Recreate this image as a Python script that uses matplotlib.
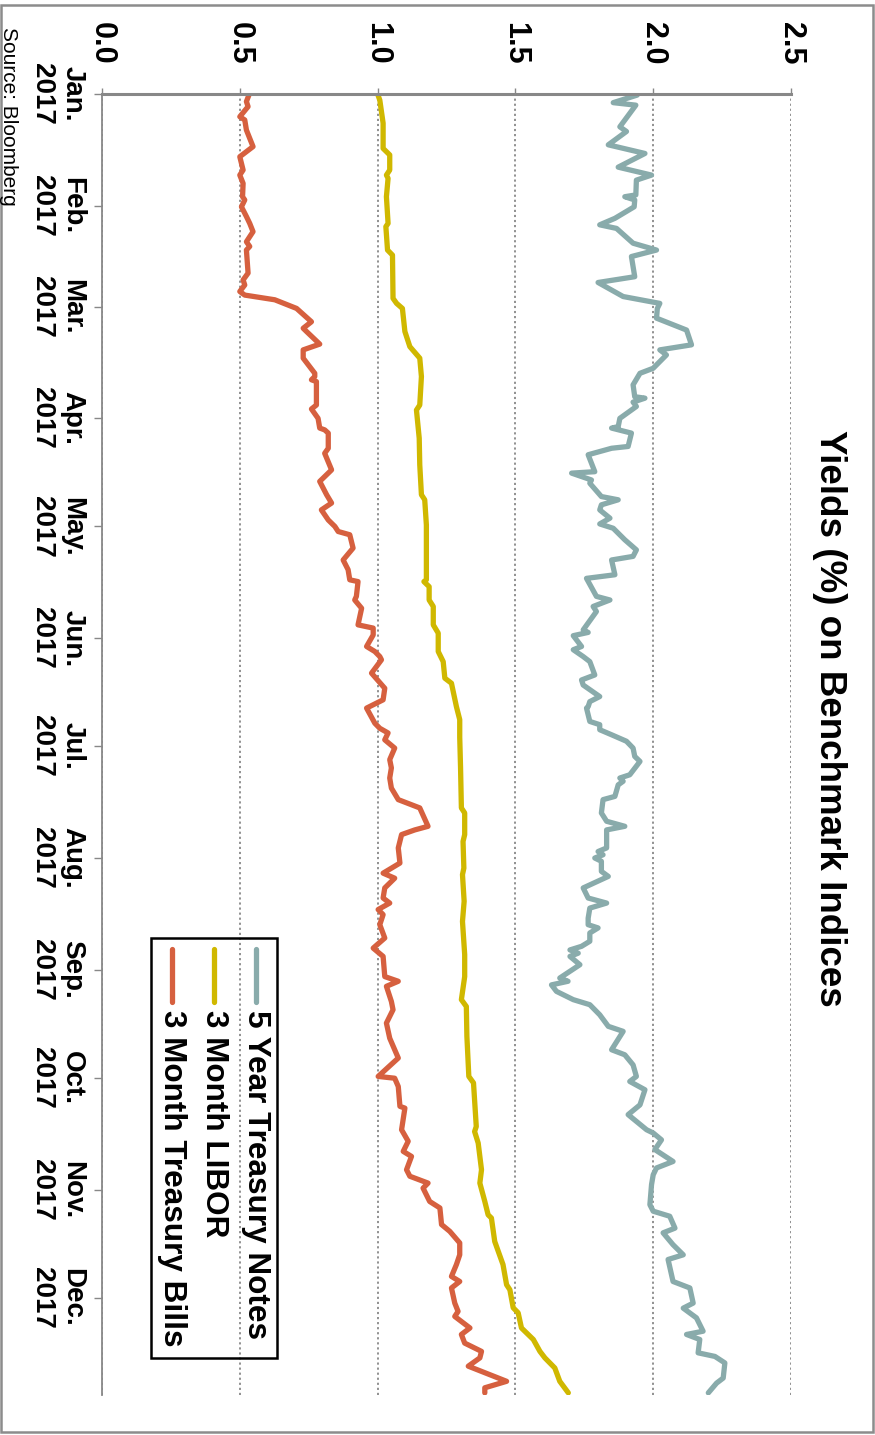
import numpy as np
import matplotlib
matplotlib.use("Agg")
import matplotlib.pyplot as plt
from matplotlib.patches import Rectangle
from matplotlib.lines import Line2D

plt.rcParams['font.family'] = ['Liberation Sans', 'DejaVu Sans']

# Days counted from 1 Jan 2017, yields in percent
notes_days = [0.3, 2.4, 3.1, 9.1, 10.4, 14.1, 16.5, 20.3, 22.5, 23.9, 28.0, 28.5, 29.4, 31.3,
              34.5, 36.3, 37.3, 41.4, 43.3, 45.1, 50.7, 52.3, 56.2, 58.1, 59.5, 62.2, 65.5,
              69.6, 71.0, 72.4, 76.1, 77.5, 80.7, 84.0, 84.4, 85.5, 86.7, 90.0, 92.3, 92.7,
              94.1, 97.8, 98.3, 100.1, 104.8, 105.2, 107.1, 108.0, 111.7, 112.6, 114.0,
              115.4, 117.7, 119.3, 120.5, 123.7, 126.5, 128.3, 129.3, 133.4, 134.4, 139.4,
              140.4, 142.2, 143.6, 148.7, 149.4, 150.3, 153.3, 154.2, 156.1, 157.5, 161.2,
              162.6, 164.0, 167.2, 168.6, 170.0, 170.4, 174.1, 175.0, 176.4, 177.8, 179.6,
              181.5, 183.8, 185.2, 188.9, 189.8, 190.7, 191.7, 194.9, 195.8, 199.5, 201.8,
              203.2, 204.2, 209.2, 210.2, 211.1, 212.0, 212.9, 215.7, 217.1, 220.3, 223.1,
              224.5, 225.9, 228.7, 230.5, 231.4, 232.8, 235.1, 236.5, 237.5, 238.4, 239.3,
              241.6, 245.3, 246.2, 247.2, 249.0, 251.3, 252.7, 255.5, 258.7, 260.1, 265.2,
              266.6, 269.4, 272.6, 274.0, 276.3, 280.5, 283.2, 287.4, 288.3, 290.2, 292.9,
              296.2, 298.0, 299.9, 302.6, 308.2, 310.0, 311.4, 314.7, 316.0, 319.3, 322.1,
              323.4, 329.5, 331.3, 335.5, 336.9, 339.6, 343.3, 344.2, 345.6, 349.3, 350.3,
              352.1, 356.3, 357.7, 360.4]
notes_vals = [1.942, 1.855, 1.937, 1.879, 1.903, 1.837, 1.970, 1.873, 1.994, 1.939, 1.937, 1.897,
              1.933, 1.931, 1.861, 1.806, 1.867, 1.927, 2.012, 1.921, 1.933, 1.800, 1.891,
              2.024, 2.015, 2.012, 2.121, 2.139, 2.024, 2.048, 2.000, 1.952, 1.927, 1.933,
              1.970, 1.927, 1.939, 1.879, 1.873, 1.849, 1.921, 1.909, 1.849, 1.764, 1.788,
              1.704, 1.776, 1.770, 1.812, 1.873, 1.812, 1.806, 1.843, 1.806, 1.855, 1.897,
              1.939, 1.927, 1.849, 1.861, 1.758, 1.794, 1.843, 1.782, 1.794, 1.746, 1.764,
              1.710, 1.740, 1.710, 1.746, 1.770, 1.788, 1.740, 1.746, 1.806, 1.770, 1.764,
              1.758, 1.770, 1.806, 1.806, 1.849, 1.903, 1.927, 1.933, 1.952, 1.915, 1.879,
              1.891, 1.873, 1.861, 1.818, 1.812, 1.831, 1.897, 1.831, 1.831, 1.800, 1.818,
              1.788, 1.812, 1.812, 1.837, 1.746, 1.764, 1.831, 1.770, 1.764, 1.764, 1.800,
              1.770, 1.770, 1.740, 1.698, 1.728, 1.698, 1.734, 1.661, 1.691, 1.631, 1.649,
              1.710, 1.770, 1.806, 1.837, 1.891, 1.849, 1.897, 1.927, 1.939, 1.915, 1.970,
              1.952, 1.909, 1.976, 2.000, 2.030, 2.006, 2.072, 2.012, 2.000, 1.994, 1.988,
              2.000, 2.060, 2.079, 2.036, 2.072, 2.109, 2.054, 2.072, 2.133, 2.145, 2.109,
              2.157, 2.181, 2.121, 2.169, 2.163, 2.224, 2.260, 2.254, 2.230, 2.200]

libor_days = [0.0, 1.7, 8.1, 15.1, 16.9, 21.1, 22.5, 23.4, 28.5, 35.9, 36.8, 43.3, 44.7, 56.7,
              58.1, 59.5, 65.9, 70.1, 73.3, 78.4, 86.3, 87.7, 95.5, 102.9, 111.2, 112.6,
              119.6, 121.9, 134.8, 135.3, 136.7, 140.4, 142.2, 147.3, 149.6, 154.7, 157.5,
              162.1, 163.5, 170.0, 173.6, 178.5, 187.0, 198.1, 199.5, 205.5, 207.4, 214.8,
              216.6, 224.0, 229.6, 238.8, 244.9, 251.3, 253.2, 261.5, 272.6, 274.4, 286.5,
              287.9, 291.1, 294.8, 298.5, 302.2, 307.3, 311.0, 311.9, 318.4, 324.8, 330.4,
              331.8, 336.8, 338.2, 342.4, 345.6, 348.9, 350.7, 353.5, 357.2, 360.4]
libor_vals = [1.000, 1.008, 1.020, 1.020, 1.044, 1.044, 1.032, 1.038, 1.032, 1.038, 1.030, 1.036,
              1.054, 1.056, 1.069, 1.090, 1.099, 1.117, 1.153, 1.159, 1.153, 1.141, 1.151,
              1.153, 1.159, 1.171, 1.177, 1.177, 1.177, 1.168, 1.187, 1.187, 1.202, 1.202,
              1.220, 1.220, 1.238, 1.244, 1.268, 1.286, 1.298, 1.298, 1.301, 1.304, 1.316,
              1.316, 1.310, 1.313, 1.308, 1.314, 1.308, 1.316, 1.316, 1.304, 1.322, 1.324,
              1.331, 1.348, 1.358, 1.352, 1.365, 1.371, 1.377, 1.371, 1.389, 1.401, 1.413,
              1.425, 1.455, 1.468, 1.480, 1.492, 1.510, 1.522, 1.565, 1.589, 1.607, 1.643,
              1.661, 1.692]

bills_days = [0.3, 2.1, 3.5, 6.3, 7.2, 10.0, 14.6, 17.4, 21.1, 22.5, 24.8, 28.5, 29.4, 31.3,
              34.0, 35.9, 38.2, 41.0, 42.3, 43.3, 49.7, 51.6, 53.0, 54.8, 55.8, 57.1, 59.5,
              63.2, 65.0, 65.9, 69.4, 71.0, 73.3, 77.5, 78.4, 79.3, 79.8, 86.3, 87.4, 90.0,
              92.7, 93.2, 94.1, 98.3, 99.7, 104.3, 107.5, 111.2, 113.5, 115.4, 118.2, 120.0,
              121.4, 122.3, 126.0, 129.3, 132.0, 134.8, 135.3, 139.4, 140.4, 142.7, 147.3,
              148.2, 150.1, 153.3, 154.7, 156.1, 157.0, 160.7, 164.9, 168.1, 170.4, 174.6,
              176.0, 177.3, 179.2, 181.5, 184.7, 187.0, 189.8, 192.6, 195.8, 198.1, 203.2,
              204.2, 205.5, 209.2, 213.4, 216.2, 217.6, 220.3, 223.1, 224.5, 226.3, 227.7,
              230.5, 234.2, 237.0, 239.3, 244.9, 246.2, 247.6, 251.8, 254.1, 257.8, 262.0,
              267.5, 272.6, 273.1, 275.4, 280.9, 281.4, 287.4, 290.6, 293.4, 294.8, 298.5,
              300.3, 302.2, 303.6, 307.3, 309.1, 313.7, 315.6, 318.8, 322.1, 324.8, 328.1,
              329.5, 331.3, 335.5, 337.8, 339.2, 342.4, 344.2, 346.6, 348.9, 350.7, 353.0,
              357.2, 359.0, 360.4]
bills_vals = [0.533, 0.524, 0.530, 0.500, 0.518, 0.524, 0.548, 0.500, 0.512, 0.500, 0.512, 0.510,
              0.518, 0.506, 0.524, 0.536, 0.548, 0.524, 0.536, 0.524, 0.530, 0.512, 0.518,
              0.500, 0.518, 0.627, 0.706, 0.760, 0.730, 0.742, 0.790, 0.730, 0.730, 0.772,
              0.772, 0.760, 0.778, 0.778, 0.760, 0.784, 0.790, 0.808, 0.821, 0.821, 0.808,
              0.833, 0.790, 0.815, 0.833, 0.796, 0.821, 0.845, 0.857, 0.899, 0.911, 0.875,
              0.893, 0.899, 0.929, 0.923, 0.917, 0.942, 0.929, 0.984, 0.984, 0.960, 0.990,
              1.008, 1.014, 0.978, 1.026, 1.020, 0.960, 0.990, 1.008, 1.038, 1.026, 1.062,
              1.044, 1.050, 1.044, 1.050, 1.075, 1.153, 1.183, 1.135, 1.087, 1.075, 1.081,
              1.020, 1.062, 1.026, 1.020, 1.044, 1.002, 1.020, 1.008, 1.026, 0.984, 1.020,
              1.026, 1.075, 1.032, 1.050, 1.056, 1.032, 1.044, 1.075, 1.002, 1.062, 1.075,
              1.081, 1.099, 1.087, 1.111, 1.093, 1.123, 1.105, 1.117, 1.183, 1.165, 1.189,
              1.226, 1.232, 1.262, 1.298, 1.298, 1.286, 1.268, 1.298, 1.268, 1.280, 1.292,
              1.280, 1.335, 1.304, 1.316, 1.377, 1.371, 1.329, 1.468, 1.389, 1.389]

series_names = ['5 Year Treasury Notes', '3 Month LIBOR', '3 Month Treasury Bills']
series_colors = ['#89abab', '#d0b800', '#d6603f']

month_labels = ['Jan.', 'Feb.', 'Mar.', 'Apr.', 'May.', 'Jun.', 'Jul.', 'Aug.',
                'Sep.', 'Oct.', 'Nov.', 'Dec.']
yield_ticks = [0.0, 0.5, 1.0, 1.5, 2.0, 2.5]

W, H = 875, 1435
fig = plt.figure(figsize=(W / 100, H / 100), dpi=100)
ax = fig.add_axes([102 / W, 1 - 1395 / H, 689 / W, 1301 / H])

# chart is drawn turned a quarter turn clockwise: yields across, dates downwards
for d, v, c in zip([notes_days, libor_days, bills_days],
                   [notes_vals, libor_vals, bills_vals], series_colors):
    ax.plot(v, d, color=c, lw=3.8, solid_joinstyle='round', solid_capstyle='round')

month_starts = [(np.datetime64('2017-%02d-01' % m) - np.datetime64('2017-01-01')).astype(int)
                for m in range(1, 13)]

ax.set_xlim(0, 2.5)
ax.set_ylim(361, 0)
ax.xaxis.tick_top()
ax.set_xticks(yield_ticks, ['%.1f' % t for t in yield_ticks])
ax.set_yticks(month_starts, [m + '\n2017' for m in month_labels])

for lbl in ax.get_xticklabels():
    lbl.set_rotation(-90)
    lbl.set_fontsize(22)
    lbl.set_fontweight('bold')
    lbl.set_ha('center')
    lbl.set_va('bottom')
for lbl in ax.get_yticklabels():
    lbl.set_rotation(-90)
    lbl.set_fontsize(20)
    lbl.set_fontweight('bold')
    lbl.set_ha('right')
    lbl.set_va('center')
    lbl.set_multialignment('center')

ax.tick_params(axis='x', length=4, width=1, color='#888888', pad=17)
ax.tick_params(axis='y', length=6, width=1, color='#888888', pad=6)
ax.xaxis.grid(True, color='#888888', lw=1.3, ls=(0, (1.2, 1.6)))
ax.spines['right'].set_visible(False)
ax.spines['bottom'].set_visible(False)
ax.spines['top'].set_color('#888888')
ax.spines['top'].set_linewidth(2.2)
ax.spines['left'].set_color('#888888')
ax.spines['left'].set_linewidth(1.3)

fig.text(829 / W, 1 - 718 / H, 'Yields (%) on Benchmark Indices', rotation=-90,
         ha='center', va='center', fontsize=26.5, fontweight='bold')

fig.text(3 / W, 1 - 27 / H, 'Source: Bloomberg', rotation=-90, rotation_mode='anchor',
         ha='left', va='baseline', fontsize=15)

# legend box, turned like the rest
fig.add_artist(Rectangle((151 / W, 1 - 1358 / H), 126 / W, 420 / H, transform=fig.transFigure,
                         fill=False, ec='black', lw=1.8))
for i, (name, c) in enumerate(zip(series_names, series_colors)):
    xc = (256 - 42 * i) / W
    fig.add_artist(Line2D([xc, xc], [1 - 949 / H, 1 - 1002 / H], transform=fig.transFigure,
                          color=c, lw=3.8, solid_capstyle='round'))
    fig.text(xc, 1 - 1010 / H, name, rotation=-90, ha='center', va='top',
             fontsize=22.7, fontweight='bold')

fig.add_artist(Rectangle((1 / W, 3 / H), 872 / W, 1427 / H, transform=fig.transFigure,
                         fill=False, ec='#8c8c8c', lw=1.8))

fig.savefig('out.png', dpi=100)
